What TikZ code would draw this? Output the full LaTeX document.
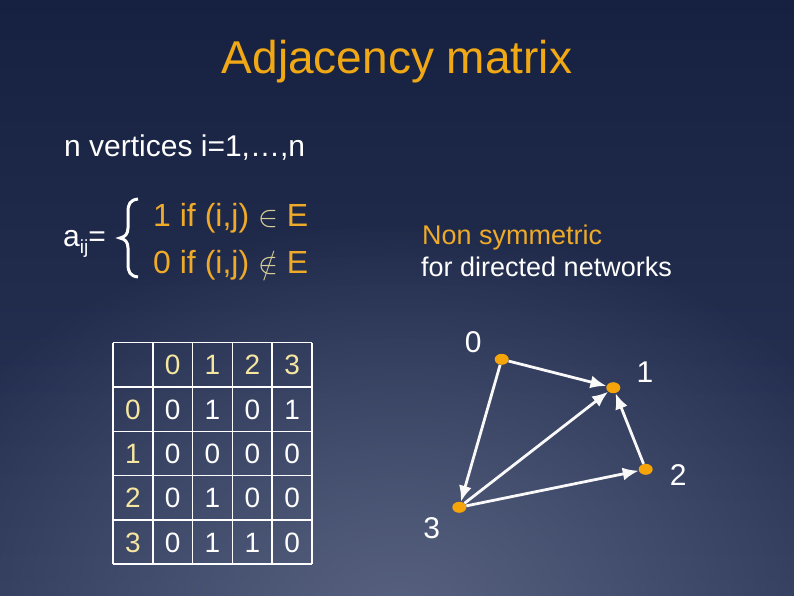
\documentclass[tikz,border=0pt]{standalone}
\usepackage{fontspec}
\setmainfont{Liberation Sans}
\usetikzlibrary{arrows.meta,shapes.geometric,fadings}

\definecolor{bgtop}{RGB}{22,32,64}
\definecolor{bgbottom}{RGB}{44,54,88}
\definecolor{bgglow}{RGB}{88,98,128}
\definecolor{titleorange}{RGB}{240,168,20}
\definecolor{textorange}{RGB}{238,170,40}
\definecolor{nodeorange}{RGB}{245,165,10}
\definecolor{hdryellow}{RGB}{245,230,160}
\definecolor{symcol}{RGB}{215,205,150}

\tikzfading[name=glowfade, inner color=transparent!0, outer color=transparent!100]

\tikzset{
	txt/.style={inner sep=0pt, anchor=base west, text=white},
	hdr/.style={inner sep=0pt, text=hdryellow, font=\fontsize{28}{32}\selectfont},
	entry/.style={inner sep=0pt, text=white, font=\fontsize{28}{32}\selectfont},
	gridline/.style={white, line width=1.5pt},
	vtx/.style={ellipse, fill=nodeorange, minimum width=14pt, minimum height=11pt, inner sep=0pt},
	vlabel/.style={inner sep=0pt, text=white, font=\fontsize{30}{34}\selectfont},
	edge/.style={white!95!gray, line width=2.8pt, -{Latex[length=16pt,width=13pt]}}
}

\begin{document}
\begin{tikzpicture}[x=1pt, y=-1pt]
		% Background
		\useasboundingbox (0,0) rectangle (794,595);
		\begin{scope}
			\clip (0,0) rectangle (794,595);
			\shade[top color=bgtop, bottom color=bgbottom] (0,0) rectangle (794,595);
			\fill[bgglow, path fading=glowfade] (400,620) ellipse (520 and 400);
		\end{scope}

		% Title
		\node[inner sep=0pt, anchor=base, text=titleorange, font=\fontsize{46}{55}\selectfont] (title) at (397,73) {Adjacency matrix};

		% Vertices
		\node[txt, font=\fontsize{30}{36}\selectfont] (vertices) at (64,156) {n vertices i=1,\ldots,n};

		% Definition of a_ij
		\node[txt, font=\fontsize{30}{36}\selectfont] (aij) at (63,246) {a\raisebox{-7pt}{\fontsize{19}{22}\selectfont ij}=};
		\draw[white, line width=3pt] (138,199) .. controls (130,200) and (128,204) .. (128,212) -- (128,228)
			.. controls (128,234) and (125,237) .. (120,238) .. controls (125,239) and (128,242) .. (128,248)
			-- (128,264) .. controls (128,272) and (130,276) .. (138,277);
		\node[txt, text=textorange, font=\fontsize{32}{38}\selectfont] (case1) at (153,226) {1 if (i,j) {\color{symcol}\scalebox{1.2}{$\in$}} E};
		\node[txt, text=textorange, font=\fontsize{32}{38}\selectfont] (case0) at (153,273) {0 if (i,j) {\color{symcol}\scalebox{1.2}{$\notin$}} E};

		% Remark
		\node[txt, text=textorange, font=\fontsize{27}{32}\selectfont] (rem1) at (422,244) {Non symmetric};
		\node[txt, font=\fontsize{27}{32}\selectfont] (rem2) at (421,276) {for directed networks};

		% Matrix grid
		\foreach \i in {0,...,5} {
			\draw[gridline] ({113+39.8*\i},342.7) -- ({113+39.8*\i},564.2);
			\draw[gridline] (113,{342.7+44.3*\i}) -- (312,{342.7+44.3*\i});
		}

		% Matrix entries
		\foreach \c in {0,...,3}
			\node[hdr] (h\c) at ({172.7+39.8*\c},365) {\c};
		\foreach \r/\row in {0/{0,1,0,1}, 1/{0,0,0,0}, 2/{0,1,0,0}, 3/{0,1,1,0}} {
			\node[hdr] (r\r) at (132.9,{409.5+44.3*\r}) {\r};
			\foreach \v [count=\c from 0] in \row
				\node[entry] (m\r\c) at ({172.7+39.8*\c},{409.5+44.3*\r}) {\v};
		}

		% Graph
		\node[vtx] (v0) at (501.7,359.3) {};
		\node[vtx] (v1) at (613.3,387.7) {};
		\node[vtx] (v2) at (645.7,469.3) {};
		\node[vtx] (v3) at (459.3,507.3) {};

		\node[vlabel] (l0) at (473.3,342) {0};
		\node[vlabel] (l1) at (645,372) {1};
		\node[vlabel] (l2) at (678.3,475) {2};
		\node[vlabel] (l3) at (431.7,528.3) {3};

		\draw[edge] (v0) -- (v1);
		\draw[edge] (v0) -- (v3);
		\draw[edge] (v3) -- (v1);
		\draw[edge] (v3) -- (v2);
		\draw[edge] (v2) -- (v1);
	\end{tikzpicture}
\end{document}
